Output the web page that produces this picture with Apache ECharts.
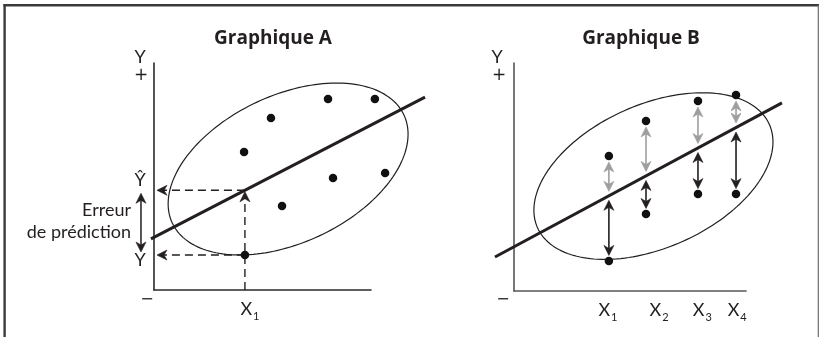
<!DOCTYPE html>
<html><head><meta charset="utf-8">
<script src="https://cdn.jsdelivr.net/npm/echarts@6/dist/echarts.min.js"></script>
<style>html,body{margin:0;padding:0;background:#fff}#c{width:819px;height:337px}</style>
</head><body><div id="c"></div>
<script>
// ---------- Graphique A ----------
const pointsA = [[8.02,8.41],[10.18,8.41],[5.39,7.58],[4.15,6.08],[8.25,4.93],[10.65,5.15],[5.90,3.70],[4.19,1.54]];
const regressionA = [[-0.14,2.25],[12.49,8.50]];
const ellipseA = [6.18, 5.33, 5.89, 3.25, 25];   // cx, cy, semi-axis a (x units), semi-axis b (y units), tilt deg
const x1A = 4.19;            // predictor value x1
const observedA = 1.54;      // observed Y at x1
const errorArrowXA = -0.6;   // where the "Erreur de prédiction" arrow stands
const tickValuesA = [4.42];
const tickLabelsA = ['1'];

// ---------- Graphique B ----------
const xB = [4.09, 5.69, 7.93, 9.57];
const upperB = [5.92, 7.46, 8.33, 8.60];
const lowerB = [1.32, 3.38, 4.25, 4.25];
const regressionB = [[-0.82,1.49],[11.55,8.25]];
const ellipseB = [6.01, 5.04, 5.47, 3.14, 24];
const tickValuesB = [4.05, 6.25, 8.12, 9.62];
const tickLabelsB = ['1','2','3','4'];

const INK = '#231f20';
const GRAY = '#9e9e9e';

function lineAt(reg, x) {
  const [p, q] = reg;
  return p[1] + (q[1] - p[1]) * (x - p[0]) / (q[0] - p[0]);
}
const yHatA = lineAt(regressionA, x1A);

// arrow kinds: [color, lineWidth, dash, startGap, endGap, headStart, headEnd]
const KINDS = [
  [INK, 1.4, [8,5], 0, 3, false, true],   // 0 dashed to axis
  [INK, 1.4, [8,5], 0, 1.5, false, true], // 1 dashed up to line
  [INK, 1.5, null, 3, 3, true, true],     // 2 error arrow A
  [GRAY, 1.6, null, 6, 4.5, true, true],  // 3 gray B (dot -> line)
  [INK, 1.6, null, 4.5, 5.5, true, true]  // 4 black B (line -> dot)
];

const arrowsA = [
  [x1A, yHatA, 0, yHatA, 0],
  [x1A, observedA, 0, observedA, 0],
  [x1A, 0, x1A, yHatA, 1],
  [errorArrowXA, yHatA, errorArrowXA, observedA, 2]
];
const arrowsB = [];
xB.forEach((x, i) => {
  const yl = lineAt(regressionB, x);
  arrowsB.push([x, upperB[i], x, yl, 3]);
  arrowsB.push([x, yl, x, lowerB[i], 4]);
});

function head(tip, d, color, L, W) {
  const nx = -d[1], ny = d[0];
  const bx = tip[0] - d[0] * L, by = tip[1] - d[1] * L;
  const mx = tip[0] - d[0] * L * 0.7, my = tip[1] - d[1] * L * 0.7;
  return { type: 'polygon', shape: { points: [
    tip, [bx + nx * W, by + ny * W], [mx, my], [bx - nx * W, by - ny * W]
  ] }, style: { fill: color, stroke: color, lineWidth: 0.6 } };
}

function arrowRender(params, api) {
  const p0 = api.coord([api.value(0), api.value(1)]);
  const p1 = api.coord([api.value(2), api.value(3)]);
  const k = KINDS[api.value(4)];
  const dx = p1[0] - p0[0], dy = p1[1] - p0[1];
  const len = Math.hypot(dx, dy);
  const d = [dx / len, dy / len];
  const s = [p0[0] + d[0] * k[3], p0[1] + d[1] * k[3]];
  const e = [p1[0] - d[0] * k[4], p1[1] - d[1] * k[4]];
  const L = 10, W = 5;
  const ls = k[5] ? [s[0] + d[0] * L * 0.65, s[1] + d[1] * L * 0.65] : s;
  const le = k[6] ? [e[0] - d[0] * L * 0.65, e[1] - d[1] * L * 0.65] : e;
  const children = [{ type: 'line', shape: { x1: ls[0], y1: ls[1], x2: le[0], y2: le[1] },
    style: { stroke: k[0], lineWidth: k[1], lineDash: k[2] || null, fill: null } }];
  if (k[5]) children.push(head(s, [-d[0], -d[1]], k[0], L, W));
  if (k[6]) children.push(head(e, d, k[0], L, W));
  return { type: 'group', children };
}

function segmentRender(params, api) {
  const p0 = api.coord([api.value(0), api.value(1)]);
  const p1 = api.coord([api.value(2), api.value(3)]);
  return { type: 'line', shape: { x1: p0[0], y1: p0[1], x2: p1[0], y2: p1[1] },
    style: { stroke: INK, lineWidth: 3, fill: null } };
}

function ellipseRender(params, api) {
  const c = api.coord([api.value(0), api.value(1)]);
  const o = api.coord([0, 0]);
  const ax = api.coord([api.value(2), 0])[0] - o[0];
  const by = o[1] - api.coord([0, api.value(3)])[1];
  const th = api.value(4) * Math.PI / 180;
  const pts = [];
  for (let i = 0; i < 180; i++) {
    const t = i / 180 * 2 * Math.PI;
    const ex = ax * Math.cos(t), ey = by * Math.sin(t);
    pts.push([c[0] + ex * Math.cos(th) - ey * Math.sin(th), c[1] - (ex * Math.sin(th) + ey * Math.cos(th))]);
  }
  return { type: 'polygon', shape: { points: pts }, style: { fill: null, stroke: INK, lineWidth: 1.2 } };
}

function xAxisFor(idx, vals, labels, color) {
  return {
    type: 'value', gridIndex: idx, min: 0, max: 10,
    axisLine: { show: true, onZero: false, lineStyle: { color, width: 1.6 } },
    axisTick: { show: false }, splitLine: { show: false },
    axisLabel: {
      show: true, customValues: vals, margin: 10,
      formatter: (v) => { const i = vals.indexOf(v); return '{m|X}{s|' + (i >= 0 ? labels[i] : '') + '}'; },
      rich: {
        m: { fontFamily: 'Lato', fontSize: 18, color: INK, padding: [0, 0, 4, 0] },
        s: { fontFamily: 'Lato', fontSize: 11, color: INK, verticalAlign: 'bottom', padding: [0, 0, 0, 1] }
      }
    }
  };
}
function yAxisFor(idx, color) {
  return {
    type: 'value', gridIndex: idx, min: 0, max: 10,
    axisLine: { show: true, onZero: false, lineStyle: { color, width: 1.6 } },
    axisTick: { show: false }, splitLine: { show: false }, axisLabel: { show: false }
  };
}

function txt(text, x, y, size, opts) {
  opts = opts || {};
  return { type: 'text', x, y, silent: true, z: 100, style: {
    text, fill: INK, font: (opts.bold ? 'bold ' : '') + size + 'px ' + (opts.family || 'Lato'),
    align: opts.align || 'center', verticalAlign: 'middle', lineHeight: opts.lh || size * 1.2
  } };
}

const chart = echarts.init(document.getElementById('c'), null, { renderer: 'canvas' });
chart.setOption({
  animation: false,
  backgroundColor: '#ffffff',
  grid: [
    { left: 154, top: 63, width: 217, height: 227, outerBoundsMode: 'none', containLabel: false },
    { left: 514, top: 63, width: 232, height: 228, outerBoundsMode: 'none', containLabel: false }
  ],
  xAxis: [xAxisFor(0, tickValuesA, tickLabelsA, '#2a2a2a'), xAxisFor(1, tickValuesB, tickLabelsB, '#555555')],
  yAxis: [yAxisFor(0, '#2a2a2a'), yAxisFor(1, '#555555')],
  graphic: [
    { type: 'line', shape: { x1: 3.5, y1: 5.2, x2: 819, y2: 5.2 }, style: { stroke: '#3a3a3a', lineWidth: 2.4 }, silent: true },
    { type: 'line', shape: { x1: 4.6, y1: 4, x2: 4.6, y2: 337 }, style: { stroke: '#3a3a3a', lineWidth: 2.4 }, silent: true },
    { type: 'line', shape: { x1: 818.3, y1: 5, x2: 818.3, y2: 337 }, style: { stroke: '#6a6a6a', lineWidth: 1.2 }, silent: true },
    txt('Graphique A', 273, 39, 19, { bold: true, family: '"Open Sans"' }),
    txt('Graphique B', 641, 39, 19, { bold: true, family: '"Open Sans"' }),
    txt('Y', 140, 57, 18), txt('+', 141, 76, 17, { family: '"DejaVu Sans"' }), txt('\u2212', 147, 300, 16, { family: '"DejaVu Sans"' }),
    txt('Y', 497, 57, 18), txt('+', 499, 76, 17, { family: '"DejaVu Sans"' }), txt('\u2212', 503, 300, 16, { family: '"DejaVu Sans"' }),
    txt('\u0176', 140, 180, 18), txt('Y', 140, 260, 18),
    txt('Erreur\nde prédiction', 131, 221, 18, { align: 'right', lh: 22 })
  ],
  series: [
    { type: 'custom', xAxisIndex: 0, yAxisIndex: 0, clip: false, silent: true, z: 2, data: [ellipseA], renderItem: ellipseRender },
    { type: 'custom', xAxisIndex: 1, yAxisIndex: 1, clip: false, silent: true, z: 2, data: [ellipseB], renderItem: ellipseRender },
    { type: 'custom', xAxisIndex: 0, yAxisIndex: 0, clip: false, silent: true, z: 3, data: [regressionA[0].concat(regressionA[1])], renderItem: segmentRender },
    { type: 'custom', xAxisIndex: 1, yAxisIndex: 1, clip: false, silent: true, z: 3, data: [regressionB[0].concat(regressionB[1])], renderItem: segmentRender },
    { type: 'custom', xAxisIndex: 0, yAxisIndex: 0, clip: false, silent: true, z: 4, data: arrowsA, renderItem: arrowRender },
    { type: 'custom', xAxisIndex: 1, yAxisIndex: 1, clip: false, silent: true, z: 4, data: arrowsB, renderItem: arrowRender },
    { type: 'scatter', xAxisIndex: 0, yAxisIndex: 0, clip: false, silent: true, z: 5, symbolSize: 8.5, itemStyle: { color: '#111', opacity: 1 }, data: pointsA },
    { type: 'scatter', xAxisIndex: 1, yAxisIndex: 1, clip: false, silent: true, z: 5, symbolSize: 8.5, itemStyle: { color: '#111', opacity: 1 },
      data: xB.map((x, i) => [x, upperB[i]]).concat(xB.map((x, i) => [x, lowerB[i]])) }
  ]
});
</script>
</body></html>
